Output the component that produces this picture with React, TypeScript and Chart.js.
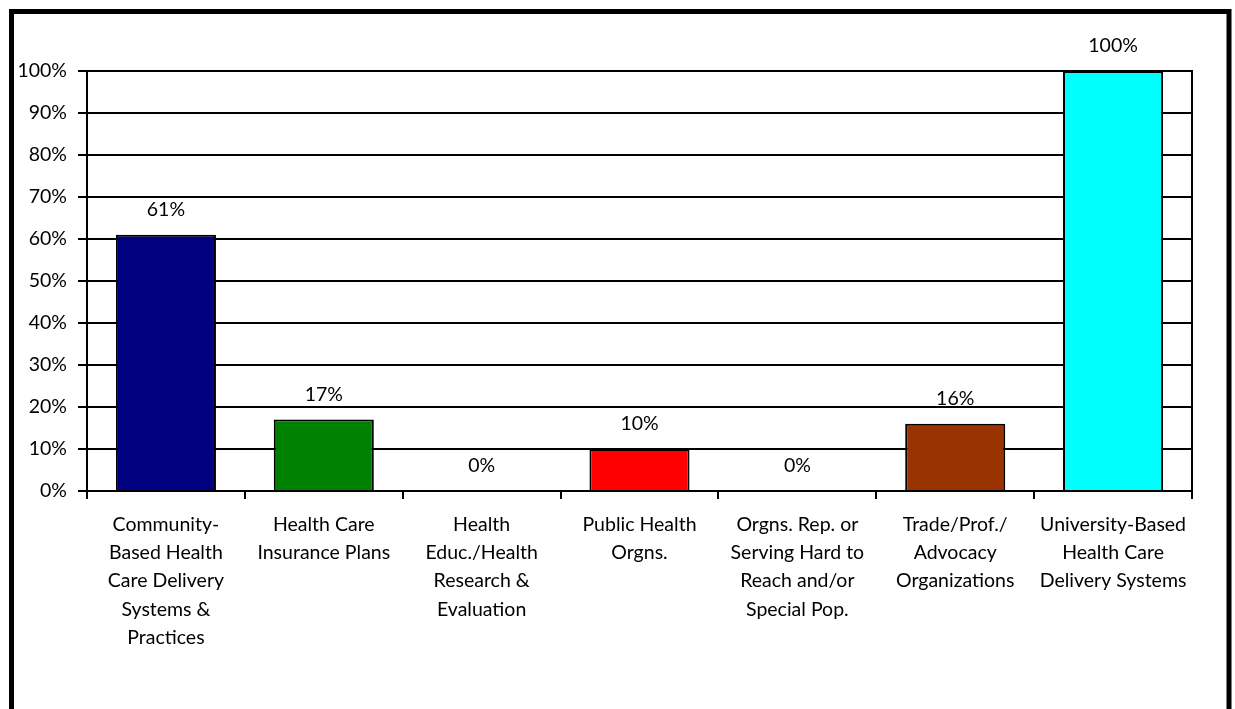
import React, { useEffect, useRef } from "react";
import { Chart, registerables } from "chart.js";

Chart.register(...registerables);

// Organisation types (multi-line axis labels)
const categories: string[][] = [
  ["Community-", "Based Health", "Care Delivery", "Systems &", "Practices"],
  ["Health Care", "Insurance Plans"],
  ["Health", "Educ./Health", "Research &", "Evaluation"],
  ["Public Health", "Orgns."],
  ["Orgns. Rep. or", "Serving Hard to", "Reach and/or", "Special Pop."],
  ["Trade/Prof./", "Advocacy", "Organizations"],
  ["University-Based", "Health Care", "Delivery Systems"],
];

// Percentage of each organisation type
const percentValues: number[] = [61, 17, 0, 10, 0, 16, 100];

const barColors: string[] = [
  "#000080",
  "#008000",
  "#000080",
  "#FF0000",
  "#000080",
  "#993300",
  "#00FFFF",
];

const yTickValues: number[] = [0, 10, 20, 30, 40, 50, 60, 70, 80, 90, 100];

const FONT_FAMILY = "Lato, 'Open Sans', sans-serif";
const FONT_SIZE = 19.5;

// Draws the white page, the thick outer frame and the plot-area outline
const framePlugin = {
  id: "frame",
  beforeDraw(chart: any) {
    const { ctx, width, height } = chart;
    ctx.save();
    ctx.fillStyle = "#ffffff";
    ctx.fillRect(0, 0, width, height);
    ctx.restore();
  },
  afterDraw(chart: any) {
    const { ctx, chartArea } = chart;
    ctx.save();
    ctx.strokeStyle = "#000000";
    ctx.lineWidth = 2;
    ctx.strokeRect(
      chartArea.left,
      chartArea.top,
      chartArea.right - chartArea.left,
      chartArea.bottom - chartArea.top
    );
    ctx.lineWidth = 5;
    ctx.strokeRect(11.5, 11.5, 1217.5, 720);
    ctx.restore();
  },
};

// Value labels above each bar
const valueLabelPlugin = {
  id: "valueLabels",
  afterDatasetsDraw(chart: any) {
    const { ctx } = chart;
    const meta = chart.getDatasetMeta(0);
    const data = chart.data.datasets[0].data as number[];
    ctx.save();
    ctx.fillStyle = "#000000";
    ctx.font = `${FONT_SIZE}px ${FONT_FAMILY}`;
    ctx.textAlign = "center";
    ctx.textBaseline = "middle";
    meta.data.forEach((bar: any, i: number) => {
      ctx.fillText(`${data[i]}%`, bar.x, bar.y - 25);
    });
    ctx.restore();
  },
};

export default function App() {
  const canvasRef = useRef<HTMLCanvasElement | null>(null);

  useEffect(() => {
    if (!canvasRef.current) return;
    const chart = new Chart(canvasRef.current, {
      type: "bar",
      data: {
        labels: categories,
        datasets: [
          {
            data: percentValues,
            backgroundColor: barColors,
            borderColor: "#000000",
            borderWidth: 2,
            categoryPercentage: 1,
            barPercentage: 0.634,
          },
        ],
      },
      options: {
        animation: false,
        responsive: false,
        maintainAspectRatio: false,
        layout: { padding: { top: 71, right: 43, left: 0, bottom: 0 } },
        plugins: {
          legend: { display: false },
          tooltip: { enabled: false },
        },
        scales: {
          x: {
            offset: true,
            grid: {
              offset: true,
              drawOnChartArea: false,
              drawTicks: true,
              tickLength: 8,
              color: "#000000",
              lineWidth: 2,
            },
            border: { display: true, color: "#000000", width: 2 },
            ticks: {
              color: "#000000",
              font: { family: FONT_FAMILY, size: FONT_SIZE, lineHeight: 1.44 },
              padding: 12,
              maxRotation: 0,
              autoSkip: false,
            },
            afterFit(scale: any) {
              scale.height = 709 - 491;
            },
          },
          y: {
            min: 0,
            max: 100,
            afterBuildTicks(scale: any) {
              scale.ticks = yTickValues.map((v) => ({ value: v }));
            },
            grid: {
              color: "#000000",
              lineWidth: 2,
              drawTicks: true,
              tickLength: 9,
            },
            border: { display: true, color: "#000000", width: 2 },
            ticks: {
              color: "#000000",
              font: { family: FONT_FAMILY, size: FONT_SIZE },
              padding: 11,
              callback: (v: any) => `${v}%`,
            },
            afterFit(scale: any) {
              scale.width = 87;
            },
          },
        },
      },
      plugins: [framePlugin, valueLabelPlugin],
    });
    return () => chart.destroy();
  }, []);

  return (
    <div style={{ position: "fixed", left: 0, top: 0, width: 1235, height: 709 }}>
      <canvas ref={canvasRef} width={1235} height={709} style={{ display: "block" }} />
    </div>
  );
}
